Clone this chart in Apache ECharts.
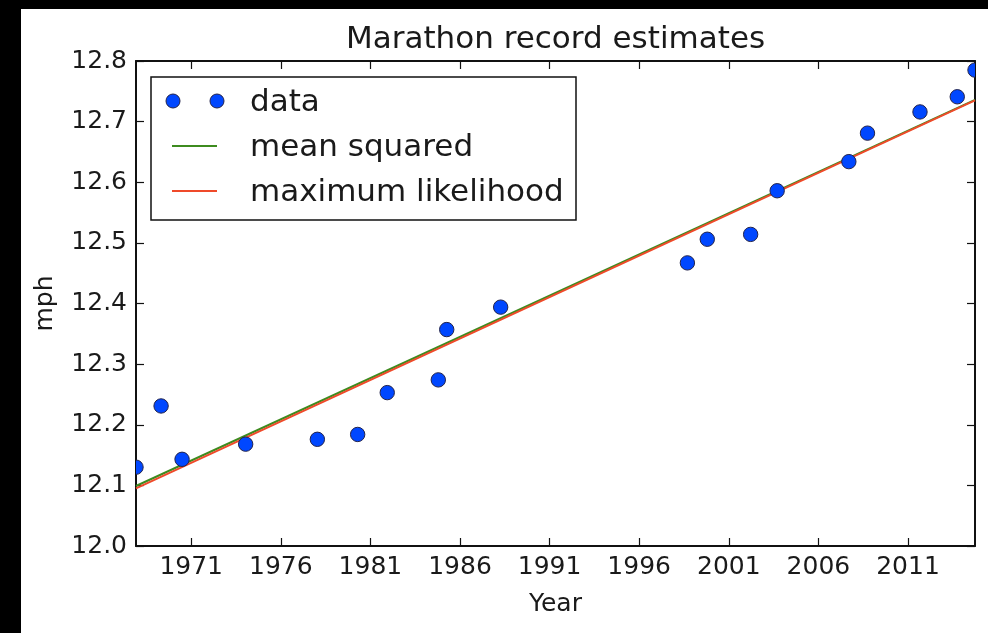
<!DOCTYPE html>
<html>
<head>
<meta charset="utf-8">
<script src="https://cdn.jsdelivr.net/npm/echarts@6/dist/echarts.min.js"></script>
<style>
  html, body { margin: 0; padding: 0; background: #000; width: 988px; height: 633px; overflow: hidden; }
  #chart { position: absolute; left: 21px; top: 9px; width: 967px; height: 624px; background: #fff; }
</style>
</head>
<body>
<div id="chart"></div>
<script>
// ---- data ----
const years = [1967.92, 1969.32, 1970.49, 1974.04, 1978.04, 1980.29, 1981.94, 1984.79, 1985.26, 1988.27,
               1998.69, 1999.80, 2002.22, 2003.70, 2007.70, 2008.74, 2011.67, 2013.75, 2014.74];
const mph = [12.130, 12.231, 12.143, 12.168, 12.176, 12.184, 12.253, 12.274, 12.357, 12.394,
             12.467, 12.506, 12.514, 12.586, 12.634, 12.681, 12.716, 12.741, 12.785];
const fitYears = [1967.92, 2014.74];
const meanSquared = [12.099, 12.736];
const maxLikelihood = [12.095, 12.735];
const xTicks = [1971, 1976, 1981, 1986, 1991, 1996, 2001, 2006, 2011];
const yMin = 12.0, yMax = 12.8, yStep = 0.1;
const titleText = 'Marathon record estimates';
const legendNames = ['data', 'mean squared', 'maximum likelihood'];

// ---- styles ----
const FONT = 'DejaVu Sans';
const TXT = '#1a1a1a';
const BLUE = '#0047ff';
const GREEN = '#3d8b1f';
const RED = '#ef4a2a';
const AX = '#111';

const chart = echarts.init(document.getElementById('chart'), null, { renderer: 'canvas' });

const zip = (a, b) => a.map((v, i) => [v, b[i]]);

const xBase = {
  type: 'value', min: years[0], max: years[years.length - 1],
  splitLine: { show: false },
  axisLine: { show: true, onZero: false, lineStyle: { color: AX, width: 2 } },
  axisTick: { show: true, inside: true, length: 8, lineStyle: { color: AX, width: 1.2 }, customValues: xTicks },
};
const yBase = {
  type: 'value', min: yMin, max: yMax, interval: yStep,
  splitLine: { show: false },
  axisLine: { show: true, onZero: false, lineStyle: { color: AX, width: 2 } },
  axisTick: { show: true, inside: true, length: 8, lineStyle: { color: AX, width: 1.2 } },
};

const option = {
  animation: false,
  title: {
    text: titleText, left: 534.5, top: 15, textAlign: 'center', padding: 0,
    textStyle: { fontFamily: FONT, fontSize: 31, fontWeight: 'normal', color: TXT }
  },
  grid: { left: 115, top: 52, right: 13, bottom: 87, containLabel: false },
  xAxis: [
    Object.assign({}, xBase, {
      position: 'bottom',
      name: 'Year', nameLocation: 'middle', nameGap: 46,
      nameTextStyle: { fontFamily: FONT, fontSize: 25, color: TXT },
      axisLabel: { show: true, margin: 9, customValues: xTicks, fontFamily: FONT, fontSize: 25, color: TXT,
                   formatter: v => String(Math.round(v)) }
    }),
    Object.assign({}, xBase, { position: 'top', axisLabel: { show: false } })
  ],
  yAxis: [
    Object.assign({}, yBase, {
      position: 'left',
      name: 'mph', nameLocation: 'middle', nameGap: 78, nameRotate: 90,
      nameTextStyle: { fontFamily: FONT, fontSize: 25, color: TXT },
      axisLabel: { show: true, margin: 9, fontFamily: FONT, fontSize: 25, color: TXT,
                   formatter: v => v.toFixed(1) }
    }),
    Object.assign({}, yBase, { position: 'right', axisLabel: { show: false } })
  ],
  series: [
    {
      name: legendNames[1], type: 'line', xAxisIndex: 0, yAxisIndex: 0,
      data: zip(fitYears, meanSquared), symbol: 'none', clip: true,
      lineStyle: { color: GREEN, width: 2 }, z: 3
    },
    {
      name: legendNames[2], type: 'line', xAxisIndex: 0, yAxisIndex: 0,
      data: zip(fitYears, maxLikelihood), symbol: 'none', clip: true,
      lineStyle: { color: RED, width: 2 }, z: 4
    },
    {
      name: legendNames[0], type: 'custom', xAxisIndex: 0, yAxisIndex: 0, clip: true, z: 5,
      data: zip(years, mph),
      renderItem: function (params, api) {
        const p = api.coord([api.value(0), api.value(1)]);
        return { type: 'circle', shape: { cx: p[0], cy: p[1], r: 7.2 },
                 style: { fill: BLUE, stroke: '#23234a', lineWidth: 1 } };
      }
    }
  ],
  graphic: [
    { type: 'rect', z: 100, shape: { x: 130, y: 68, width: 425, height: 143 },
      style: { fill: '#fff', stroke: AX, lineWidth: 1.5 } },
    { type: 'circle', z: 101, shape: { cx: 152, cy: 92, r: 7 }, style: { fill: BLUE, stroke: '#23234a', lineWidth: 1 } },
    { type: 'circle', z: 101, shape: { cx: 196, cy: 92, r: 7 }, style: { fill: BLUE, stroke: '#23234a', lineWidth: 1 } },
    { type: 'line', z: 101, shape: { x1: 151, y1: 137, x2: 196, y2: 137 }, style: { stroke: GREEN, lineWidth: 2 } },
    { type: 'line', z: 101, shape: { x1: 151, y1: 182, x2: 196, y2: 182 }, style: { stroke: RED, lineWidth: 2 } },
    { type: 'text', z: 101, x: 229, y: 94, style: { text: legendNames[0], font: '31px "DejaVu Sans"', fill: TXT, verticalAlign: 'middle' } },
    { type: 'text', z: 101, x: 229, y: 139, style: { text: legendNames[1], font: '31px "DejaVu Sans"', fill: TXT, verticalAlign: 'middle' } },
    { type: 'text', z: 101, x: 229, y: 184, style: { text: legendNames[2], font: '31px "DejaVu Sans"', fill: TXT, verticalAlign: 'middle' } }
  ]
};
chart.setOption(option);
</script>
</body>
</html>
